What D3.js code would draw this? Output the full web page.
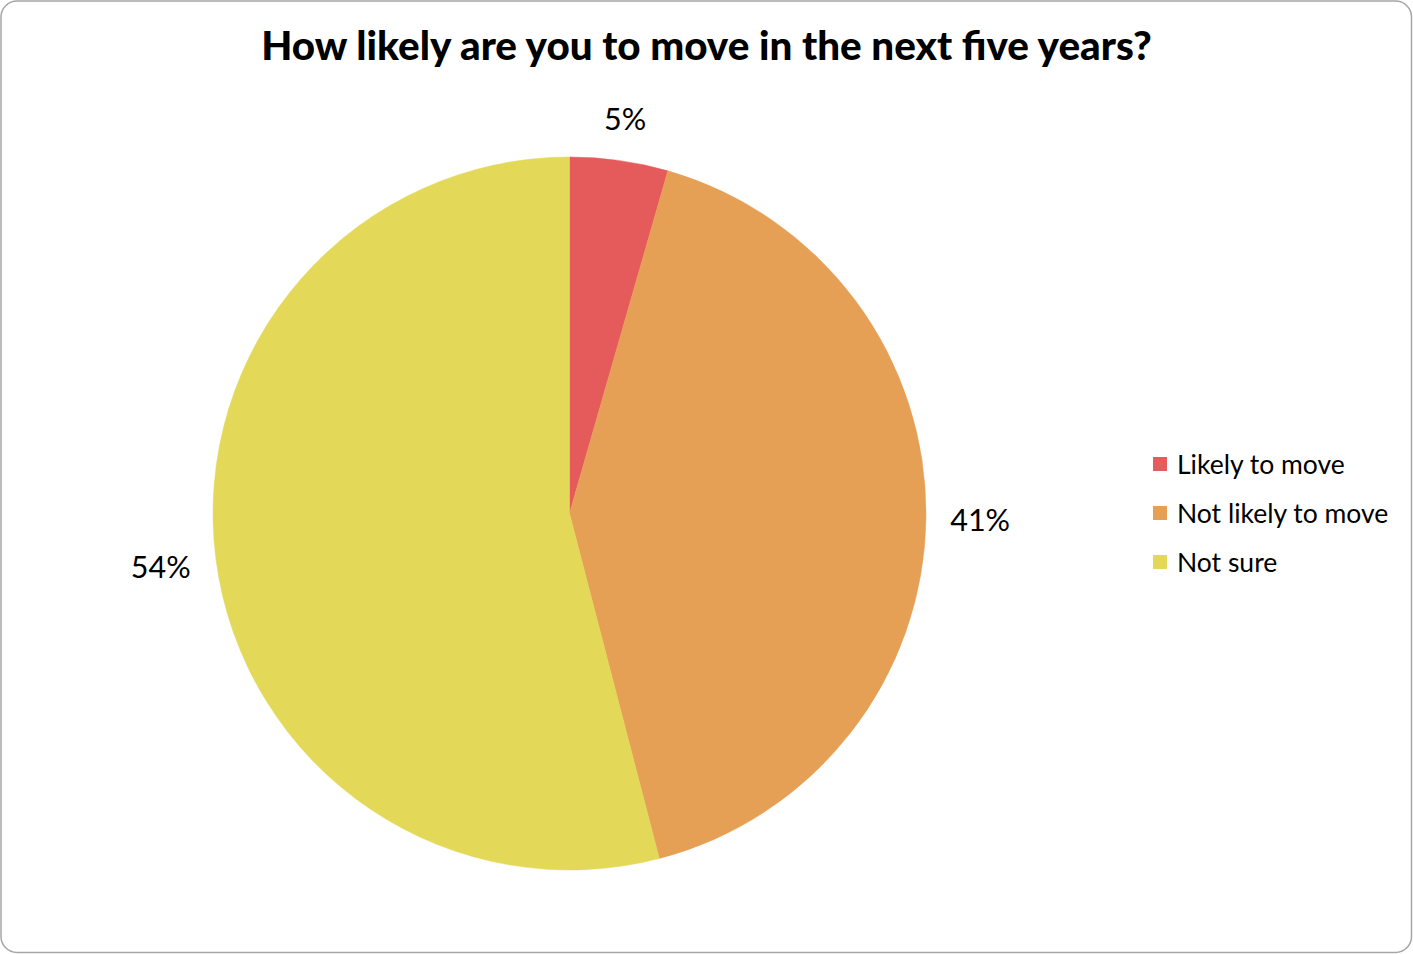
<!DOCTYPE html>
<html>
<head>
<meta charset="utf-8">
<script src="https://cdn.jsdelivr.net/npm/d3@7"></script>
<style>
  html, body { margin: 0; padding: 0; background: #fff; }
  svg { display: block; }
</style>
</head>
<body>
<svg id="chart" width="1413" height="954"></svg>
<script>
const categories = ["Likely to move", "Not likely to move", "Not sure"];
const values = [4.45, 41.5, 54.05];
const valueLabels = ["5%", "41%", "54%"];
const colors = ["#E55A5A", "#E6A056", "#E3D857"];
const title = "How likely are you to move in the next five years?";

const W = 1413, H = 954;
const svg = d3.select("#chart");
const FONT = "Lato, 'Open Sans', sans-serif";

svg.append("rect")
  .attr("x", 1).attr("y", 1).attr("width", W - 2.5).attr("height", H - 2.5)
  .attr("rx", 16).attr("ry", 16)
  .attr("fill", "#fff").attr("stroke", "#A6A6A6").attr("stroke-width", 1.5);

// title
const t = svg.append("text")
  .attr("x", 706.5).attr("y", 60)
  .attr("text-anchor", "middle")
  .attr("font-family", FONT).attr("font-weight", "900")
  .attr("font-size", 34).attr("fill", "#000")
  .text(title);
const tw = t.node().getComputedTextLength();
t.attr("font-size", 34 * 891 / tw);

const cx = 569.5, cy = 513.5, r = 356.5;
const g = svg.append("g").attr("transform", `translate(${cx},${cy})`);

const pie = d3.pie().sort(null).value(d => d.v);
const data = pie(categories.map((c, i) => ({ c, v: values[i], lab: valueLabels[i], col: colors[i] })));
const arc = d3.arc().innerRadius(0).outerRadius(r);

g.selectAll("path.slice").data(data).join("path")
  .attr("class", "slice")
  .attr("d", arc)
  .attr("fill", d => d.data.col)
  .attr("stroke", d => d.data.col).attr("stroke-width", 0.5);

// data labels outside
const boxW = 60, boxH = 30, gap = 24;
data.forEach(d => {
  const a = (d.startAngle + d.endAngle) / 2;
  const sx = Math.sin(a), sy = -Math.cos(a);
  const rr = r + gap + Math.abs(sx) * boxW / 2 + Math.abs(sy) * boxH / 2;
  g.append("text")
    .attr("x", rr * sx).attr("y", rr * sy)
    .attr("text-anchor", "middle")
    .attr("dominant-baseline", "central")
    .attr("font-family", FONT).attr("font-size", 30.5)
    .attr("fill", "#000")
    .text(d.data.lab);
});

// legend
const lg = svg.append("g").attr("transform", "translate(1153,464)");
const item = lg.selectAll("g").data(categories).join("g")
  .attr("transform", (d, i) => `translate(0,${i * 49})`);
item.append("rect")
  .attr("x", 0).attr("y", -7).attr("width", 14).attr("height", 14)
  .attr("fill", (d, i) => colors[i]);
item.append("text")
  .attr("x", 24).attr("y", 0)
  .attr("dominant-baseline", "central")
  .attr("font-family", FONT).attr("font-size", 26.5)
  .attr("fill", "#000")
  .text(d => d);
</script>
</body>
</html>
